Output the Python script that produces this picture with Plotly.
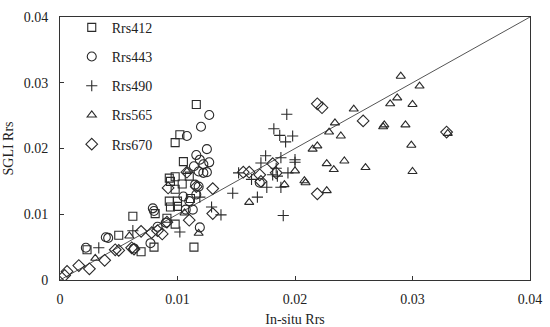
import plotly.graph_objects as go

# ---- data ----
rrs412_x = [0.0023, 0.0050, 0.0062, 0.0069, 0.0080, 0.0081, 0.0091, 0.0098, 0.0093, 0.0100,
            0.0094, 0.0100, 0.0098, 0.0102, 0.0116, 0.0105, 0.0098, 0.0094, 0.0104, 0.0110,
            0.0114, 0.0098, 0.0111, 0.0093]
rrs412_y = [0.0046, 0.0068, 0.0097, 0.0043, 0.0050, 0.0101, 0.0094, 0.0085, 0.0120, 0.0120,
            0.0111, 0.0112, 0.0209, 0.0221, 0.0267, 0.0180, 0.0157, 0.0150, 0.0146, 0.0158,
            0.0050, 0.0138, 0.0124, 0.0155]

rrs443_x = [0.0022, 0.0039, 0.0041, 0.0063, 0.0077, 0.0079, 0.0080, 0.0083, 0.0090, 0.0107,
            0.0113, 0.0110, 0.0105, 0.0116, 0.0115, 0.0122, 0.0119, 0.0127, 0.0120, 0.0108,
            0.0125, 0.0116, 0.0119, 0.0122, 0.0127, 0.0114, 0.0118, 0.0125, 0.0170, 0.0118]
rrs443_y = [0.0049, 0.0065, 0.0064, 0.0048, 0.0056, 0.0109, 0.0105, 0.0081, 0.0087, 0.0107,
            0.0107, 0.0120, 0.0127, 0.0130, 0.0145, 0.0163, 0.0080, 0.0251, 0.0233, 0.0219,
            0.0199, 0.0190, 0.0183, 0.0176, 0.0179, 0.0173, 0.0165, 0.0164, 0.0148, 0.0142]

rrs490_x = [0.0033, 0.0062, 0.0102, 0.0119, 0.0129, 0.0137, 0.0147, 0.0168, 0.0190, 0.0193,
            0.0182, 0.0187, 0.0192, 0.0198, 0.0175, 0.0171, 0.0188, 0.0200, 0.0200, 0.0184,
            0.0152, 0.0163, 0.0194, 0.0181, 0.0185, 0.0176, 0.0188]
rrs490_y = [0.0049, 0.0075, 0.0073, 0.0126, 0.0111, 0.0099, 0.0132, 0.0126, 0.0098, 0.0252,
            0.0230, 0.0220, 0.0210, 0.0219, 0.0189, 0.0178, 0.0186, 0.0183, 0.0179, 0.0170,
            0.0163, 0.0153, 0.0163, 0.0160, 0.0158, 0.0141, 0.0141]

rrs565_x = [0.0030, 0.0059, 0.0106, 0.0118, 0.0108, 0.0161, 0.0200, 0.0191, 0.0208, 0.0209,
            0.0215, 0.0219, 0.0229, 0.0234, 0.0239, 0.0250, 0.0227, 0.0233, 0.0242, 0.0260,
            0.0227, 0.0275, 0.0276, 0.0281, 0.0287, 0.0290, 0.0306, 0.0300, 0.0294, 0.0299,
            0.0300, 0.0330]
rrs565_y = [0.0033, 0.0067, 0.0102, 0.0071, 0.0165, 0.0118, 0.0166, 0.0145, 0.0151, 0.0148,
            0.0199, 0.0204, 0.0225, 0.0239, 0.0219, 0.0260, 0.0177, 0.0168, 0.0181, 0.0171,
            0.0136, 0.0233, 0.0236, 0.0268, 0.0277, 0.0310, 0.0295, 0.0267, 0.0236, 0.0205,
            0.0165, 0.0223]

rrs670_x = [0.0004, 0.0006, 0.0016, 0.0025, 0.0038, 0.0047, 0.0050, 0.0061, 0.0063, 0.0069,
            0.0078, 0.0083, 0.0087, 0.0091, 0.0092, 0.0110, 0.0108, 0.0130, 0.0130, 0.0156,
            0.0161, 0.0170, 0.0181, 0.0184, 0.0219, 0.0223, 0.0258, 0.0219, 0.0329, 0.0116,
            0.0171]
rrs670_y = [0.0007, 0.0013, 0.0022, 0.0017, 0.0030, 0.0046, 0.0045, 0.0049, 0.0047, 0.0074,
            0.0072, 0.0075, 0.0070, 0.0088, 0.0140, 0.0091, 0.0164, 0.0139, 0.0101, 0.0164,
            0.0164, 0.0160, 0.0177, 0.0163, 0.0268, 0.0262, 0.0242, 0.0131, 0.0225, 0.0142,
            0.0150]

series_names = ["Rrs412", "Rrs443", "Rrs490", "Rrs565", "Rrs670"]
axis_range = [0, 0.04]
tick_vals = [0, 0.01, 0.02, 0.03, 0.04]
tick_text = ["0", "0.01", "0.02", "0.03", "0.04"]

# ---- styling ----
FONT = "Liberation Serif, Times New Roman, serif"
ink = "#2a2a2a"
symbols = ["square-open", "circle-open", "cross-thin-open", "triangle-up-open", "diamond-open"]
sizes = [8, 9, 8, 8, 9]
data = [(rrs412_x, rrs412_y), (rrs443_x, rrs443_y), (rrs490_x, rrs490_y),
        (rrs565_x, rrs565_y), (rrs670_x, rrs670_y)]

fig = go.Figure()

# 1:1 line
fig.add_trace(go.Scatter(x=axis_range, y=axis_range, mode="lines",
                         line=dict(color="#555555", width=1), showlegend=False,
                         hoverinfo="skip"))

for i, (name, (xs, ys)) in enumerate(zip(series_names, data)):
    fig.add_trace(go.Scatter(
        x=xs, y=ys, mode="markers", name=name, legendgroup=name,
        marker=dict(symbol=symbols[i], size=sizes[i], color=ink,
                    line=dict(color=ink, width=1.1)),
    ))

axis_common = dict(range=axis_range, tickvals=tick_vals, ticktext=tick_text,
                   showline=True, mirror=True, linecolor="#333333", linewidth=1,
                   ticks="inside", ticklen=4, tickcolor="#333333",
                   showgrid=False, zeroline=False, automargin=False,
                   tickfont=dict(family=FONT, size=14, color="#222222"),
                   title_font=dict(family=FONT, size=14, color="#222222"))

fig.update_xaxes(**axis_common, title_text="In-situ Rrs", title_standoff=10,
                 ticklabelstandoff=6)
fig.update_yaxes(**axis_common, title_text="SGLI Rrs", title_standoff=6,
                 ticklabelstandoff=8)

fig.update_layout(
    width=550, height=327,
    margin=dict(l=60, r=20, t=14, b=47),
    paper_bgcolor="white", plot_bgcolor="white",
    font=dict(family=FONT, size=14, color="#222222"),
    legend=dict(x=0.025, y=1.02, xanchor="left", yanchor="top",
                bgcolor="rgba(0,0,0,0)", tracegroupgap=8, itemwidth=30,
                font=dict(family=FONT, size=14, color="#222222")),
)

fig.write_html("out.html",
               config={"displayModeBar": False},
               post_script="document.body.style.margin='0';document.body.style.overflow='hidden';")
